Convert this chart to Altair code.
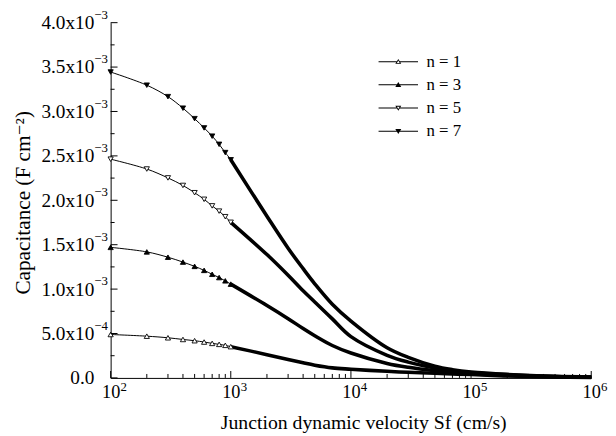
import altair as alt
import pandas as pd

# Junction dynamic velocity Sf (cm/s)
sf = [100, 200, 300, 400, 500, 600, 700, 800, 900, 1000,
      2000, 3000, 4000, 5000, 7000, 10000,
      20000, 30000, 50000, 70000, 100000, 200000, 500000, 1000000]

# Capacitance in units of 1e-3 F cm^-2
n1 = [0.489, 0.470, 0.452, 0.433, 0.419, 0.404, 0.389, 0.378, 0.367, 0.352,
      0.262, 0.208, 0.170, 0.143, 0.113, 0.098,
      0.074, 0.063, 0.052, 0.044, 0.038, 0.022, 0.010, 0.005]
n3 = [1.470, 1.419, 1.359, 1.304, 1.256, 1.211, 1.167, 1.130, 1.093, 1.056,
      0.815, 0.667, 0.556, 0.475, 0.365, 0.280,
      0.163, 0.119, 0.081, 0.063, 0.048, 0.028, 0.013, 0.007]
n5 = [2.463, 2.352, 2.252, 2.167, 2.085, 2.011, 1.937, 1.878, 1.815, 1.752,
      1.389, 1.156, 0.981, 0.855, 0.665, 0.465,
      0.255, 0.178, 0.111, 0.081, 0.059, 0.035, 0.016, 0.009]
n7 = [3.444, 3.296, 3.167, 3.037, 2.919, 2.815, 2.722, 2.630, 2.537, 2.456,
      1.820, 1.460, 1.230, 1.060, 0.830, 0.640,
      0.340, 0.232, 0.132, 0.093, 0.067, 0.040, 0.018, 0.010]

series_names = ["n = 1", "n = 3", "n = 5", "n = 7"]
series_vals = [n1, n3, n5, n7]

y_major = [0, 0.0005, 0.001, 0.0015, 0.002, 0.0025, 0.003, 0.0035, 0.004]
y_minor = [0.00025, 0.00075, 0.00125, 0.00175, 0.00225, 0.00275, 0.00325, 0.00375]
x_major = [100, 1000, 10000, 100000, 1000000]
x_minor = [m * d for d in [100, 1000, 10000, 100000] for m in range(2, 10)]

# tick label pieces: mantissa text on the axis, exponent as superscript
y_exp_vals = [0.0005, 0.001, 0.0015, 0.002, 0.0025, 0.003, 0.0035, 0.004]
y_exp_text = ["\u22124", "\u22123", "\u22123", "\u22123", "\u22123", "\u22123", "\u22123", "\u22123"]
x_exp_text = ["2", "3", "4", "5", "6"]

rows = []
for name, vals in zip(series_names, series_vals):
    for x, v in zip(sf, vals):
        rows.append({"Sf": x, "C": v * 1e-3, "series": name})
df = pd.DataFrame(rows)

FONT = "Liberation Serif, Times New Roman, Times, DejaVu Serif, serif"
W, H = 487, 360

xscale = alt.Scale(type="log", domain=[100, 1000000])
yscale = alt.Scale(domain=[0, 0.004])

y_label_expr = ("datum.value == 0 ? '0.0' : datum.value < 0.00099 ? "
                "format(datum.value * 10000, '.1f') + 'x10' : "
                "format(datum.value * 1000, '.1f') + 'x10'")

x_enc = alt.X("Sf:Q", scale=xscale, axis=alt.Axis(
    values=x_major, ticks=False, grid=False, labelExpr="'10'",
    labelFont=FONT, labelFontSize=18.5, labelColor="black", labelPadding=5,
    labelBaseline="top", labelFlush=False,
    title="Junction dynamic velocity Sf (cm/s)", titleFont=FONT, titleFontSize=20,
    titleFontWeight="normal", titleColor="black", titleBaseline="middle",
    titleX=256, titleY=45, domainColor="black", domainWidth=1))
y_enc = alt.Y("C:Q", scale=yscale, axis=alt.Axis(
    values=y_major, ticks=False, grid=False, labelExpr=y_label_expr,
    labelFont=FONT, labelFontSize=19.5, labelColor="black", labelPadding=17,
    title="Capacitance (F cm⁻²)", titleFont=FONT, titleFontSize=21.5,
    titleFontWeight="normal", titleColor="black", titleAngle=-90,
    titleBaseline="middle", titleX=-88, titleY=182,
    domainColor="black", domainWidth=1))

base = alt.Chart(df)

thin = base.mark_line(color="black", strokeWidth=1, interpolate="catmull-rom").encode(
    x=x_enc, y=y_enc, detail="series:N")
thick = base.transform_filter("datum.Sf >= 1000").mark_line(
    color="black", strokeWidth=3.6, interpolate="catmull-rom").encode(
    x="Sf:Q", y="C:Q", detail="series:N")

pts = base.transform_filter("datum.Sf <= 1000").mark_point(
    size=28, stroke="black", strokeWidth=0.9, opacity=1).encode(
    x="Sf:Q", y="C:Q",
    shape=alt.Shape("series:N", scale=alt.Scale(
        domain=series_names,
        range=["triangle-up", "triangle-up", "triangle-down", "triangle-down"]), legend=None),
    fill=alt.Fill("series:N", scale=alt.Scale(
        domain=series_names, range=["white", "black", "white", "black"]), legend=None))

# legend glyphs: a line with a triangle marker in its middle (all filled, holes for open ones)
line_l = "M-4,-0.1H-0.3V0.1H-4Z"
line_r = "M0.3,-0.1H4V0.1H0.3Z"
line_full = "M-4,-0.1H4V0.1H-4Z"
up_out = "M0,-0.56L0.6,0.44L-0.6,0.44Z"
up_in = "M0,-0.21L-0.28,0.26L0.28,0.26Z"
dn_out = "M0,0.56L-0.6,-0.44L0.6,-0.44Z"
dn_in = "M0,0.21L0.28,-0.26L-0.28,-0.26Z"
leg_shapes = [line_l + line_r + up_out + up_in,
              line_full + up_out,
              line_l + line_r + dn_out + dn_in,
              line_full + dn_out]

leg_layer = base.transform_filter("false").mark_point(
    size=100, filled=True, color="black", opacity=1).encode(
    shape=alt.Shape("series:N", scale=alt.Scale(domain=series_names, range=leg_shapes),
                    legend=alt.Legend(title=None, labelFont=FONT, labelFontSize=17)))

# inward tick marks
ymaj = alt.Chart(pd.DataFrame({"t": y_major})).mark_rule(color="black", strokeWidth=1).encode(
    y="t:Q", x=alt.value(0), x2=alt.value(7))
ymin = alt.Chart(pd.DataFrame({"t": y_minor})).mark_rule(color="black", strokeWidth=1).encode(
    y="t:Q", x=alt.value(0), x2=alt.value(4))
xmaj = alt.Chart(pd.DataFrame({"t": x_major})).mark_rule(color="black", strokeWidth=1).encode(
    x="t:Q", y=alt.value(H), y2=alt.value(H - 7))
xmin = alt.Chart(pd.DataFrame({"t": x_minor})).mark_rule(color="black", strokeWidth=1).encode(
    x="t:Q", y=alt.value(H), y2=alt.value(H - 4))

# exponent superscripts of the tick labels
y_sup = alt.Chart(pd.DataFrame({"t": y_exp_vals, "e": y_exp_text})).mark_text(
    font=FONT, fontSize=13, color="black", align="left", baseline="middle", dy=-8).encode(
    y="t:Q", x=alt.value(-16.5), text="e:N")
x_sup = alt.Chart(pd.DataFrame({"t": x_major, "e": x_exp_text})).mark_text(
    font=FONT, fontSize=13, color="black", align="left", baseline="top", dx=10).encode(
    x="t:Q", y=alt.value(H + 3), text="e:N")

chart = alt.layer(thin, thick, pts, leg_layer, ymaj, ymin, xmaj, xmin, y_sup, x_sup).resolve_scale(
    shape="independent", fill="independent"
).properties(
    width=W, height=H,
    autosize=alt.AutoSizeParams(type="none"),
    padding={"left": 104, "top": 12, "right": 17, "bottom": 56},
    background="white",
).configure(font=FONT).configure_view(stroke=None).configure_axis(
    labelFont=FONT, titleFont=FONT
).configure_legend(
    orient="none", legendX=283, legendY=31, padding=0,
    labelFont=FONT, labelFontSize=17, labelColor="black", labelOffset=20,
    symbolFillColor="black", symbolStrokeWidth=0, symbolSize=100,
    symbolOpacity=1, rowPadding=5.5,
)

chart.save("out.html", embed_options={"renderer": "svg", "actions": False})
